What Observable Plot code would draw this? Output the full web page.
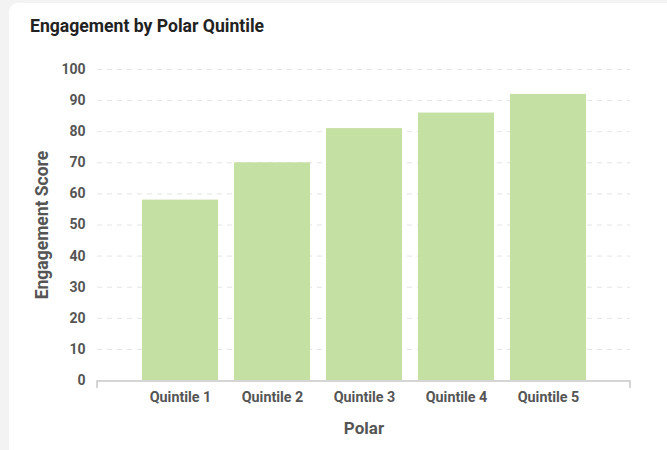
<!DOCTYPE html>
<html>
<head>
<meta charset="utf-8">
<script src="https://cdn.jsdelivr.net/npm/d3@7"></script>
<script src="https://cdn.jsdelivr.net/npm/@observablehq/plot@0.6"></script>
<style>
  html, body { margin: 0; padding: 0; width: 667px; height: 450px; overflow: hidden; background: #f3f3f3; font-family: Roboto, "Noto Sans", sans-serif; }
  #card { position: absolute; left: 9px; top: 3px; width: 700px; height: 500px; background: #fff; border-radius: 9px; }
  #title { position: absolute; left: 30px; top: 16px; font-size: 17.6px; font-weight: 700; color: #222; }
  #chart { position: absolute; left: 0; top: 0; }
</style>
</head>
<body>
<div id="card"></div>
<div id="title">Engagement by Polar Quintile</div>
<div id="chart"></div>
<script>
const categories = ["Quintile 1", "Quintile 2", "Quintile 3", "Quintile 4", "Quintile 5"];
const scores = [58, 70, 81, 86, 92];
const yTicks = [0, 10, 20, 30, 40, 50, 60, 70, 80, 90, 100];
const xLabel = "Polar";
const yLabel = "Engagement Score";

const data = categories.map((c, i) => ({category: c, score: scores[i]}));

const chart = Plot.plot({
  width: 667,
  height: 450,
  marginLeft: 97,
  marginRight: 37,
  marginTop: 69,
  marginBottom: 70,
  style: {background: "transparent", fontFamily: "Roboto, 'Noto Sans', sans-serif", overflow: "visible"},
  x: {domain: categories, paddingInner: 0.176, paddingOuter: 0.477, align: 0.5},
  y: {domain: [0, 100]},
  marks: [
    Plot.ruleY(yTicks.filter(d => d > 0), {stroke: "#e4e4e4", strokeDasharray: "5,5", strokeWidth: 1}),
    Plot.barY(data, {x: "category", y: "score", fill: "#c5e0a3"}),
    Plot.axisY({ticks: yTicks, tickSize: 0, tickPadding: 12, fontSize: 14, fontWeight: 700, fill: "#555", label: null}),
    Plot.axisX({tickSize: 0, tickPadding: 11, fontSize: 14.3, fontWeight: 700, fill: "#555", label: null}),
    Plot.text([xLabel], {frameAnchor: "bottom", dy: 48, lineAnchor: "middle", textAnchor: "middle", fontSize: 17, fontWeight: 700, fill: "#555"}),
    Plot.text([yLabel], {frameAnchor: "left", dx: -55, rotate: -90, lineAnchor: "middle", textAnchor: "middle", fontSize: 17.5, fontWeight: 700, fill: "#555"})
  ]
});

document.getElementById("chart").appendChild(chart);

const svg = d3.select(chart);
// bottom domain line with end ticks, derived from scales
const xr = chart.scale("x").range;
const y0 = chart.scale("y").apply(0) + 1;
svg.append("path")
  .attr("d", `M${xr[0]},${y0 + 7}V${y0}H${xr[1]}V${y0 + 7}`)
  .attr("fill", "none").attr("stroke", "#c8c8c8").attr("stroke-width", 1.5);
</script>
</body>
</html>
